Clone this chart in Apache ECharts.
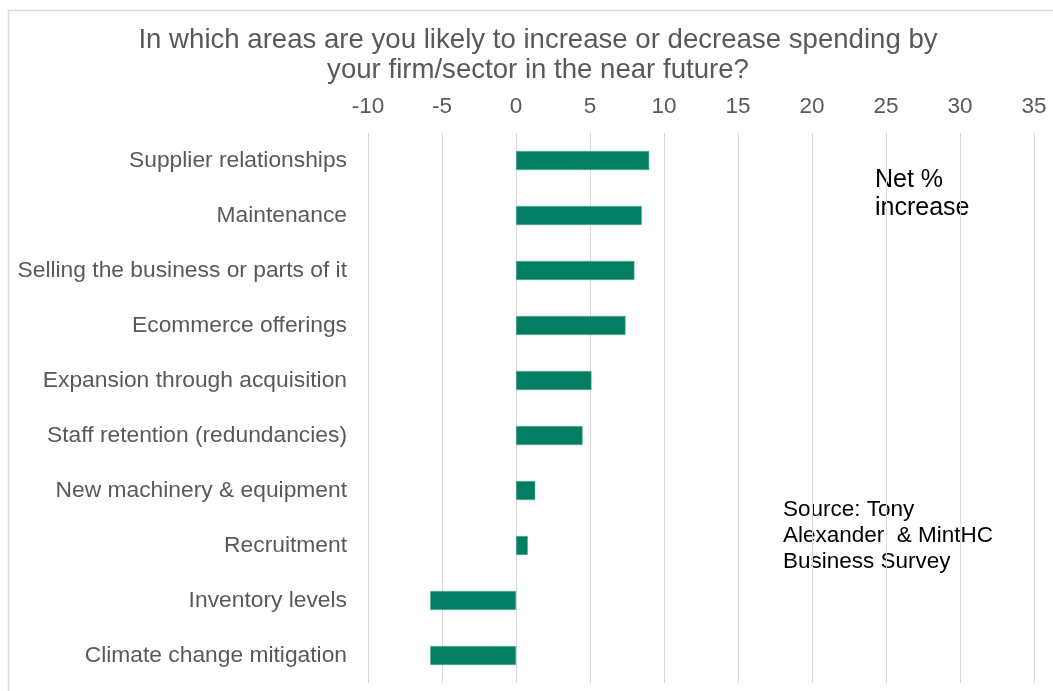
<!DOCTYPE html>
<html>
<head>
<meta charset="utf-8">
<script src="https://cdn.jsdelivr.net/npm/echarts@6/dist/echarts.min.js"></script>
<style>
html,body{margin:0;padding:0;background:#fff;}
#chart{width:1053px;height:691px;}
</style>
</head>
<body>
<div id="chart"></div>
<script>
const categories = [
  "Supplier relationships",
  "Maintenance",
  "Selling the business or parts of it",
  "Ecommerce offerings",
  "Expansion through acquisition",
  "Staff retention (redundancies)",
  "New machinery & equipment",
  "Recruitment",
  "Inventory levels",
  "Climate change mitigation"
];
const netIncrease = [9.0, 8.5, 8.0, 7.4, 5.1, 4.5, 1.3, 0.8, -5.8, -5.8];
const titleText = "In which areas are you likely to increase or decrease spending by\nyour firm/sector in the near future?";
const noteText = "Net %\nincrease";
const sourceText = "Source: Tony\nAlexander  & MintHC\nBusiness Survey";

const chart = echarts.init(document.getElementById('chart'));
const font = "Liberation Sans, Arial, sans-serif";
chart.setOption({
  animation: false,
  backgroundColor: '#fff',
  title: {
    text: titleText,
    left: 533,
    textAlign: 'center',
    top: 20,
    textStyle: {fontFamily: font, fontSize: 27.6, fontWeight: 'normal', color: '#595959', lineHeight: 30}
  },
  grid: {left: 368, right: 19, top: 133, bottom: 8, containLabel: false},
  xAxis: {
    type: 'value',
    position: 'top',
    min: -10, max: 35, interval: 5,
    axisLine: {show: false},
    axisTick: {show: false},
    axisLabel: {fontFamily: font, fontSize: 22.5, color: '#595959', margin: 15},
    splitLine: {lineStyle: {color: '#d9d9d9', width: 1}}
  },
  yAxis: {
    type: 'category',
    data: categories,
    inverse: true,
    axisLine: {show: false},
    axisTick: {show: false},
    axisLabel: {fontFamily: font, fontSize: 22.8, color: '#595959', margin: 21}
  },
  series: [{
    type: 'bar',
    data: netIncrease,
    barWidth: 19,
    itemStyle: {color: '#037e62', borderColor: '#5fb39f', borderWidth: 0.5}
  }],
  graphic: [
    {type: 'rect', left: 6, top: 8, shape: {width: 1100, height: 720}, style: {fill: 'none', stroke: '#d9d9d9', lineWidth: 1.5}, silent: true},
    {type: 'text', left: 875, top: 166, style: {text: noteText, fontFamily: font, fontSize: 25, fill: '#000', lineHeight: 28}},
    {type: 'text', left: 783, top: 497, style: {text: sourceText, fontFamily: font, fontSize: 22.5, fill: '#000', lineHeight: 26}}
  ]
});
</script>
</body>
</html>
